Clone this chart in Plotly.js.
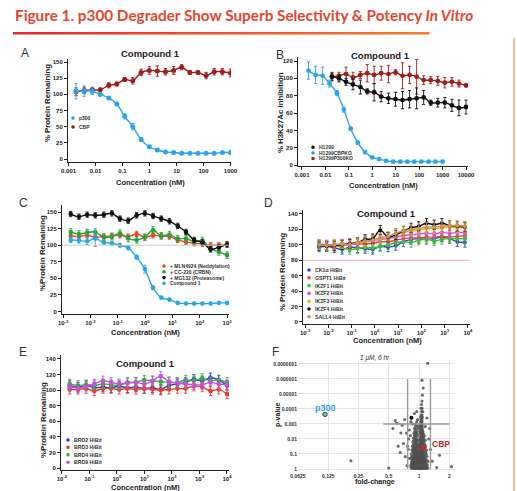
<!DOCTYPE html>
<html><head><meta charset="utf-8">
<script src="https://cdn.plot.ly/plotly-3.0.1.min.js"></script>
<style>html,body{margin:0;padding:0;background:#fff;}#chart{width:517px;height:491px;}</style>
</head><body><div id="chart"></div>
<script>
// ---------- Panel A ----------
const xA = [0.0019,0.0038,0.0076,0.015,0.031,0.061,0.12,0.24,0.49,0.98,1.95,3.9,7.8,15.6,31.3,62.5,125,250,500,1000];
const p300A = [105,105,105,100,94.5,85,66,50,30,19,14,11,10,9,9,9,9,9,10,10];
const p300AErr = [12,8,5,3,2,2,4,5,3,2,1,1,1,1,1,1,1,1,1,1];
const cbpA = [104,106,107,107,114,116,123,121,134,137,136,135,137,142,134,134,129,135,135,133];
const cbpAErr = [6,5,4,3,4,3,3,5,5,6,8,5,6,4,3,3,5,5,5,6];
const aTicks = [0.001,0.01,0.1,1,10,100,1000];
const aTickText = ["0.001","0.01","0.1","1","10","100","1000"];

// ---------- Panel B ----------
const xBko = [0.0019,0.0038,0.0076,0.015,0.031,0.061,0.12,0.24,0.49,0.98,1.95,3.9,7.8,15.6,31.3,62.5,125,250,500,1000];
const xBwt = [0.019,0.038,0.076,0.15,0.31,0.61,1.2,2.4,4.9,9.8,19.5,39,78,156,313,625,1250,2500,5000,10000];
const h1299 = [102,100,96,93,90,85,84,79,77,76,75,76,77,78,72,72,72,69,66,67];
const h1299Err = [4,4,4,6,8,3,10,6,6,8,10,10,12,8,3,5,6,7,9,8];
const cbpKO = [109,104,103,94,83,64,42,26,15,9,7,5,4,4,4,4,4,4,4,4];
const cbpKOErr = [10,10,10,4,3,3,2,2,2,1,1,1,1,1,1,1,1,1,1,1];
const p300KO = [102,103,105,101,104,106,104,106,105,107,103,104,102,98,98,97,95,96,94,92];
const p300KOErr = [5,4,8,6,4,10,10,8,10,3,15,10,20,5,4,5,6,5,4,2];
const bTicks = [0.001,0.01,0.1,1,10,100,1000,10000];
const bTickText = ["0.001","0.01","0.1","1","10","100","1000","10000"];

// ---------- Panel C ----------
const xC = [0.0019,0.0038,0.0076,0.015,0.031,0.061,0.12,0.24,0.49,0.98,1.95,3.9,7.8,15.6,31.3,62.5,125,250,500,1000];
const mln4924 = [114,113,115,112,113,114,115,113,117,112,115,114,113,108,105,103,102,100,100,101];
const cc220 = [120,117,119,120,112,113,118,110,108,112,123,114,116,110,110,105,107,95,90,85];
const mg132 = [147,143,146,145,146,148,140,137,145,148,144,140,136,129,120,108,104,94,97,101];
const cmpdC = [108,107,106,110,104,103,100,96,82,64,36,21,18,13,12,12,12,12,13,13];
const cmpdCErr = [4,4,5,12,3,3,3,3,3,6,3,2,2,1,1,1,1,1,1,1];
const cTicks = [0.001,0.01,0.1,1,10,100,1000];
const cTickText = ["10<sup>-3</sup>","10<sup>-2</sup>","10<sup>-1</sup>","10<sup>0</sup>","10<sup>1</sup>","10<sup>2</sup>","10<sup>3</sup>"];

// ---------- Panel D ----------
const xD = [0.004,0.0085,0.018,0.039,0.083,0.18,0.38,0.81,1.7,3.7,7.9,17,36,77,166,355,760,1630,3500,7400];
const ck1a = [97,98,96,94,97,96,95,94,98,97,99,104,107,108,107,108,110,108,104,103];
const gspt1 = [100,99,98,100,100,101,101,102,104,104,106,108,109,109,110,110,111,110,111,112];
const ikzf1 = [98,99,100,96,94,95,97,96,98,100,103,104,103,106,107,105,107,108,108,108];
const ikzf2 = [101,100,99,101,102,103,104,105,107,108,110,112,113,114,115,114,116,115,116,116];
const ikzf3 = [100,98,101,100,101,102,104,106,108,110,113,116,118,119,121,121,122,123,122,122];
const ikzf4 = [99,98,99,100,101,103,107,108,119,110,113,118,122,124,128,126,128,125,124,123];
const sall4 = [100,99,100,101,100,103,105,106,109,111,115,118,120,121,123,123,124,125,125,124];
const dTicks = [0.001,0.01,0.1,1,10,100,1000,10000];
const dTickText = ["10<sup>-3</sup>","10<sup>-2</sup>","10<sup>-1</sup>","10<sup>0</sup>","10<sup>1</sup>","10<sup>2</sup>","10<sup>3</sup>","10<sup>4</sup>"];

// ---------- Panel E ----------
const xE = [0.019,0.038,0.076,0.15,0.31,0.61,1.2,2.4,4.9,9.8,19.5,39,78,156,313,625,1250,2500,5000,10000];
const brd2 = [106,104,106,103,104,103,105,103,104,102,103,101,106,108,110,114,112,116,113,106];
const brd3 = [101,101,102,99,102,102,101,102,101,102,101,100,101,102,102,105,104,99,101,95];
const brd4 = [108,106,107,106,108,107,106,110,110,113,112,111,110,110,113,112,115,112,113,110];
const brd9 = [104,103,105,108,112,110,108,109,110,108,112,118,111,109,108,107,107,110,108,107];
const eTicks = [0.01,0.1,1,10,100,1000,10000];
const eTickText = ["10<sup>-2</sup>","10<sup>-1</sup>","10<sup>0</sup>","10<sup>1</sup>","10<sup>2</sup>","10<sup>3</sup>","10<sup>4</sup>"];

// ---------- Panel F (volcano) ----------
const cloudP = [0.9,0.7,0.55,0.42,0.32,0.25,0.19,0.14,0.1,0.075,0.055,0.04,0.03,0.022,0.016,0.012,0.0085,0.006,0.0042,0.003,0.002,0.0014,0.001,0.0007,0.0005,0.00035,0.00025,0.00015,0.00009,0.00005,0.00003,0.000012,0.000004,0.0000012,0.00000009];
const cloudFC = [
 [0.84,0.86,0.88,0.9,0.91,0.93,0.94,0.96,0.97,0.99,1.0,1.02,1.03,1.05,1.06,1.08,1.1,1.12,1.14,1.16,1.18,1.22],
 [0.83,0.86,0.87,0.89,0.91,0.93,0.95,0.96,0.98,0.99,1.01,1.02,1.04,1.05,1.07,1.08,1.1,1.12,1.14,1.16,1.2],
 [0.83,0.85,0.87,0.9,0.92,0.95,0.96,0.98,1.0,1.01,1.03,1.04,1.06,1.07,1.09,1.11,1.13,1.15,1.21],
 [0.85,0.88,0.9,0.92,0.94,0.96,0.97,0.99,1.0,1.02,1.03,1.05,1.06,1.08,1.09,1.11,1.13,1.18],
 [0.84,0.87,0.89,0.91,0.93,0.95,0.97,0.99,1.0,1.02,1.04,1.05,1.07,1.08,1.1,1.12,1.17,1.23],
 [0.86,0.89,0.91,0.93,0.95,0.96,0.98,1.0,1.01,1.03,1.04,1.06,1.07,1.09,1.1,1.14,1.19],
 [0.83,0.88,0.9,0.92,0.94,0.95,0.97,0.99,1.01,1.03,1.05,1.06,1.08,1.09,1.13,1.16],
 [0.85,0.87,0.9,0.92,0.94,0.96,0.97,1.0,1.02,1.05,1.07,1.08,1.11,1.15,1.2],
 [0.84,0.89,0.91,0.93,0.96,0.98,0.99,1.02,1.04,1.06,1.07,1.1,1.14,1.18],
 [0.86,0.9,0.92,0.94,0.95,0.98,1.01,1.04,1.05,1.08,1.12,1.17],
 [0.85,0.88,0.91,0.94,0.97,1.03,1.05,1.06,1.09,1.13,1.19],
 [0.87,0.9,0.93,0.96,1.0,1.04,1.06,1.07,1.1,1.15],
 [0.86,0.89,0.92,0.95,0.98,1.02,1.05,1.07,1.08,1.12,1.16],
 [0.88,0.91,0.94,0.97,1.01,1.04,1.06,1.07,1.1,1.14],
 [0.87,0.9,0.93,0.96,1.03,1.05,1.06,1.09,1.12],
 [0.89,0.92,0.95,0.99,1.04,1.06,1.07,1.1,1.15],
 [0.88,0.91,0.94,1.02,1.05,1.06,1.08,1.11],
 [0.9,0.93,0.97,1.04,1.06,1.09,1.13],
 [0.89,0.92,0.96,1.03,1.05,1.08,1.1],
 [0.91,0.95,1.02,1.05,1.07,1.09],
 [0.9,0.94,0.99,1.04,1.06,1.08],
 [0.92,0.97,1.03,1.05,1.07],
 [0.93,1.02,1.05,1.06,1.08],
 [0.95,1.04,1.06,1.07],
 [0.97,1.05,1.07],
 [1.04,1.06,1.08],
 [1.05,1.07],
 [1.06,1.09],
 [1.05,1.07],
 [1.06],
 [1.07],
 [1.08],
 [1.1],
 [1.07],
 [1.22]
];
const outFC = [0.72,0.68,0.6,0.75,0.7,0.78,0.65,0.8,0.76,0.55,0.62,0.73,0.79,0.83,0.86,0.8,0.82,0.77,1.3,1.35,1.5,1.25,1.28,1.2,1.15,2.1,0.21,0.5,0.58,0.66,1.6,0.9,0.95];
const outP  = [0.0005,0.0012,0.0009,0.004,0.02,0.05,0.08,0.2,0.6,0.002,0.03,0.15,0.01,0.0007,0.001,0.0025,0.006,0.03,0.05,0.3,0.8,0.01,0.002,0.0004,0.0015,0.7,0.28,0.85,0.0006,0.004,0.12,0.0002,0.00015];
const p300F = {fc:[0.116], p:[0.00023]};
const cbpF = {fc:[1.09], p:[0.038]};
const markedF = {fc:[0.84], p:[0.00038]};
const fTicksX = [0.0625,0.125,0.25,0.5,1,2];
const fTickTextX = ["0.0625","0.125","0.25","0.5","1","2"];
const fTicksY = [1e-7,1e-6,1e-5,1e-4,1e-3,1e-2,1e-1,1];
const fTickTextY = ["0.0000001","0.000001","0.00001","0.0001","0.001","0.01","0.1","1"];

// ---------- helpers ----------
const W=517,H=491;
const fx=p=>p/W, fy=p=>1-p/H;
const FONT='Liberation Sans';
function tr(x,y,err,color,ax,size){
  const t={type:'scatter',mode:'lines+markers',x:x,y:y,xaxis:'x'+ax,yaxis:'y'+ax,
    line:{color:color,width:1.4,shape:'spline',smoothing:1},
    marker:{color:color,size:size||4.5},hoverinfo:'skip'};
  if(err!=null){
    t.error_y = Array.isArray(err)?{type:'data',array:err,color:color,thickness:0.9,width:1.6}
                                  :{type:'constant',value:err,color:color,thickness:0.9,width:1.6};
  }
  return t;
}
const tickFont={family:FONT,size:6,color:'#222',weight:'bold'};
function xAx(p0,p1,range,tv,tt,anchor){
  return {domain:[fx(p0),fx(p1)],range:range,type:'log',anchor:anchor,tickmode:'array',tickvals:tv,ticktext:tt,
    showline:true,linecolor:'#222',linewidth:1,ticks:'outside',ticklen:3,tickwidth:1,tickcolor:'#222',
    showgrid:false,zeroline:false,tickfont:tickFont,fixedrange:true};
}
function yAx(top,bot,range,dtick,anchor){
  return {domain:[fy(bot),fy(top)],range:range,anchor:anchor,tick0:0,dtick:dtick,
    showline:true,linecolor:'#222',linewidth:1,ticks:'outside',ticklen:3,tickwidth:1,tickcolor:'#222',
    showgrid:false,zeroline:false,tickfont:tickFont,fixedrange:true};
}

// ---------- colours ----------
const cBlue='#2ba4ea', cDRed='#9e1d1d', cBlack='#111111';
const cRed='#f0452e', cGreen='#25a535';
const dColors=['#2b43e0','#f0452a','#2ec42e','#d44ee6','#f5a623','#111111','#c8935a'];
const eColors=['#2342e2','#f03a2a','#2cb52c','#c850e0'];

const data=[
  tr(xA,cbpA,cbpAErr,cDRed,'',5),
  tr(xA,p300A,p300AErr,cBlue,'',5),
  tr(xBwt,p300KO,p300KOErr,cDRed,'2',4.8),
  tr(xBwt,h1299,h1299Err,cBlack,'2',4.8),
  tr(xBko,cbpKO,cbpKOErr,cBlue,'2',4.8),
  tr(xC,mln4924,4,cRed,'3',4.6),
  tr(xC,cc220,5,cGreen,'3',4.6),
  tr(xC,mg132,4,cBlack,'3',4.6),
  tr(xC,cmpdC,cmpdCErr,cBlue,'3',4.6)
];
[ck1a,gspt1,ikzf1,ikzf2,ikzf3,ikzf4,sall4].forEach((s,i)=>data.push(tr(xD,s,6,dColors[i],'4',4)));
[brd2,brd3,brd4,brd9].forEach((s,i)=>data.push(tr(xE,s,6,eColors[i],'5',4.6)));

// volcano
const cfx=[],cpy=[];
cloudP.forEach((p,i)=>cloudFC[i].forEach(f=>{cfx.push(f);cpy.push(p);}));
data.push({type:'scatter',mode:'markers',x:cfx.concat(outFC),y:cpy.concat(outP),xaxis:'x6',yaxis:'y6',
  marker:{color:'#505050',size:3.1,opacity:0.85},hoverinfo:'skip'});
data.push({type:'scatter',mode:'markers',x:markedF.fc,y:markedF.p,xaxis:'x6',yaxis:'y6',marker:{color:'#111',size:4},hoverinfo:'skip'});
data.push({type:'scatter',mode:'markers',x:cbpF.fc,y:cbpF.p,xaxis:'x6',yaxis:'y6',marker:{color:'#d42424',size:5},hoverinfo:'skip'});
data.push({type:'scatter',mode:'markers',x:p300F.fc,y:p300F.p,xaxis:'x6',yaxis:'y6',marker:{color:'#62b9b0',size:4.5,line:{color:'#333',width:0.8}},hoverinfo:'skip'});

// ---------- annotations ----------
const ann=[];
function A(text,x,y,o){ann.push(Object.assign({text:text,x:fx(x),y:fy(y),xref:'paper',yref:'paper',showarrow:false,
  xanchor:'center',yanchor:'middle',font:{family:FONT,size:7,color:'#222'}},o||{}));}
A('Figure 1. p300 Degrader Show Superb Selectivity &amp; Potency <i>In Vitro</i>',13,15,{xanchor:'left',font:{family:'Lato',size:15.3,color:'#e9452f',weight:'bold'}});
// panel letters
[['A',25,53],['B',280,55],['C',23,203],['D',268,203],['E',23,352],['F',275,352]].forEach(l=>A(l[0],l[1],l[2],{font:{family:FONT,size:12,color:'#333'}}));
// titles
const tf={family:FONT,size:9.5,color:'#222',weight:'bold'};
A('Compound 1',150,54,{font:tf});A('Compound 1',380,55,{font:tf});A('Compound 1',386,213,{font:tf});A('Compound 1',145,363,{font:tf});
A('<i>1 μM, 6 hr</i>',375,358,{font:{family:FONT,size:6.5,color:'#333'}});
// axis titles
const xf={family:FONT,size:7.5,color:'#222',weight:'bold'};
A('Concentration (nM)',150,182,{font:xf});A('Concentration (nM)',383,185,{font:xf});
A('Concentration (nM)',145,332,{font:xf});A('Concentration (nM)',387,340,{font:xf});A('Concentration (nM)',145,487,{font:xf});
A('fold-change',375,482,{font:{family:FONT,size:7,color:'#222',weight:'bold'}});
const yf={family:FONT,size:7.8,color:'#222',weight:'bold'};
A('% Protein Remaining',47,103,{textangle:-90,font:yf});
A('% H3K27Ac Inhibition',280,113,{textangle:-90,font:yf});
A('%Protein Remaining',43,253,{textangle:-90,font:yf});
A('% Protein Remaining',282,272,{textangle:-90,font:yf});
A('%Protein Remaining',43,420,{textangle:-90,font:yf});
A('p-value',278,415,{textangle:-90,font:{family:FONT,size:7,color:'#222',weight:'bold'}});
// F labels
A('p300',325.5,408,{font:{family:FONT,size:9,color:'#3aa3e8',weight:'bold'}});
A('CBP',441,444,{font:{family:FONT,size:8.5,color:'#c62828',weight:'bold'}});

// ---------- legends (annotation text + circle shapes) ----------
const shapes=[];
function legend(names,colors,mx,y0,dy,fs){
  names.forEach((n,i)=>{
    const y=y0+i*dy;
    shapes.push({type:'circle',xref:'paper',yref:'paper',x0:fx(mx-1.8),x1:fx(mx+1.8),y0:fy(y+1.8),y1:fy(y-1.8),fillcolor:colors[i],line:{width:0}});
    A(n,mx+4,y,{xanchor:'left',font:{family:FONT,size:fs,color:'#333',weight:'bold'}});
  });
}
legend(['p300','CBP'],[cBlue,cDRed],73,118,9,5);
legend(['H1299','H1299CBPKO','H1299P300KO'],[cBlack,cBlue,cDRed],313,147.3,5.6,5);
legend(['+ MLN4924 (Neddylation)','+ CC-220 (CRBN)','+ MG132 (Proteasome)','Compound 1'],[cRed,cGreen,cBlack,cBlue],164,266,5.8,5);
legend(['CK1α HiBit','GSPT1 HiBit','IKZF1 HiBit','IKZF2 HiBit','IKZF3 HiBit','IKZF4 HiBit','SALL4 HiBit'],dColors,309,270,7.8,5.2);
legend(['BRD2 HiBit','BRD3 HiBit','BRD4 HiBit','BRD9 HiBit'],eColors,68,440,7.4,5.2);

// title underline gradient
const N=40;
for(let i=0;i<N;i++){
  const t=i/(N-1);
  const r=Math.round(232+(244-232)*t), g=Math.round(38+(122-38)*t), b=Math.round(46+(48-46)*t);
  shapes.push({type:'rect',xref:'paper',yref:'paper',x0:fx(13+i*416/N),x1:fx(13+(i+1)*416/N+0.5),y0:fy(34.5),y1:fy(32),fillcolor:`rgb(${r},${g},${b})`,line:{width:0}});
}
// right edge orange line
shapes.push({type:'line',xref:'paper',yref:'paper',x0:fx(514),x1:fx(514),y0:fy(38),y1:fy(491),line:{color:'#f6a576',width:1.5}});
// reference lines
shapes.push({type:'line',xref:'x3 domain',yref:'y3',x0:0,x1:1,y0:100,y1:100,line:{color:'#c8c8c8',width:1}});
shapes.push({type:'line',xref:'x4 domain',yref:'y4',x0:0,x1:1,y0:80,y1:80,line:{color:'#f2a6cc',width:1}});
// volcano thresholds
const thrC='#9a9a9a';
shapes.push({type:'line',xref:'x6',yref:'y6',x0:0.77,x1:0.77,y0:1e-6,y1:1,line:{color:thrC,width:1.4}});
shapes.push({type:'line',xref:'x6',yref:'y6',x0:1.3,x1:1.3,y0:1e-6,y1:1,line:{color:thrC,width:1.4}});
shapes.push({type:'line',xref:'x6',yref:'y6',x0:0.44,x1:2.0,y0:0.001,y1:0.001,line:{color:thrC,width:1.4}});

const fTick={family:FONT,size:5,color:'#333',weight:'bold'};
const layout={
  width:W,height:H,margin:{l:0,r:0,t:0,b:0},paper_bgcolor:'#fff',plot_bgcolor:'rgba(0,0,0,0)',showlegend:false,
  xaxis: xAx(68,231,[-3.02,3.02],aTicks,aTickText,'y'),
  yaxis: yAx(58.8,161.6,[-4,155],25,'x'),
  xaxis2: xAx(298,468,[-3.17,4.085],bTicks,bTickText,'y2'),
  yaxis2: yAx(56.7,166,[-1,125],20,'x2'),
  xaxis3: xAx(62,229,[-3.04,3.07],cTicks,cTickText,'y3'),
  yaxis3: yAx(205.4,314.2,[-4,160],25,'x3'),
  xaxis4: xAx(303,470,[-3.09,4.09],dTicks,dTickText,'y4'),
  yaxis4: yAx(210.1,323.5,[-2,145],20,'x4'),
  xaxis5: xAx(61,229,[-2.036,4.073],eTicks,eTickText,'y5'),
  yaxis5: yAx(355.1,469.6,[-2,145],20,'x5'),
  xaxis6: {domain:[fx(298),fx(455)],range:[-1.204,0.358],type:'log',anchor:'y6',tickmode:'array',tickvals:fTicksX,ticktext:fTickTextX,
    showline:false,showgrid:true,gridcolor:'#e4e4e4',gridwidth:1,zeroline:false,ticks:'',tickfont:fTick,fixedrange:true},
  yaxis6: {domain:[fy(472),fy(362)],range:[0.2,-7.13],type:'log',anchor:'x6',tickmode:'array',tickvals:fTicksY,ticktext:fTickTextY,
    showline:false,showgrid:true,gridcolor:'#e4e4e4',gridwidth:1,zeroline:false,ticks:'',tickfont:fTick,fixedrange:true},
  annotations:ann,shapes:shapes
};
Plotly.newPlot('chart',data,layout,{staticPlot:true,displayModeBar:false});
</script></body></html>
